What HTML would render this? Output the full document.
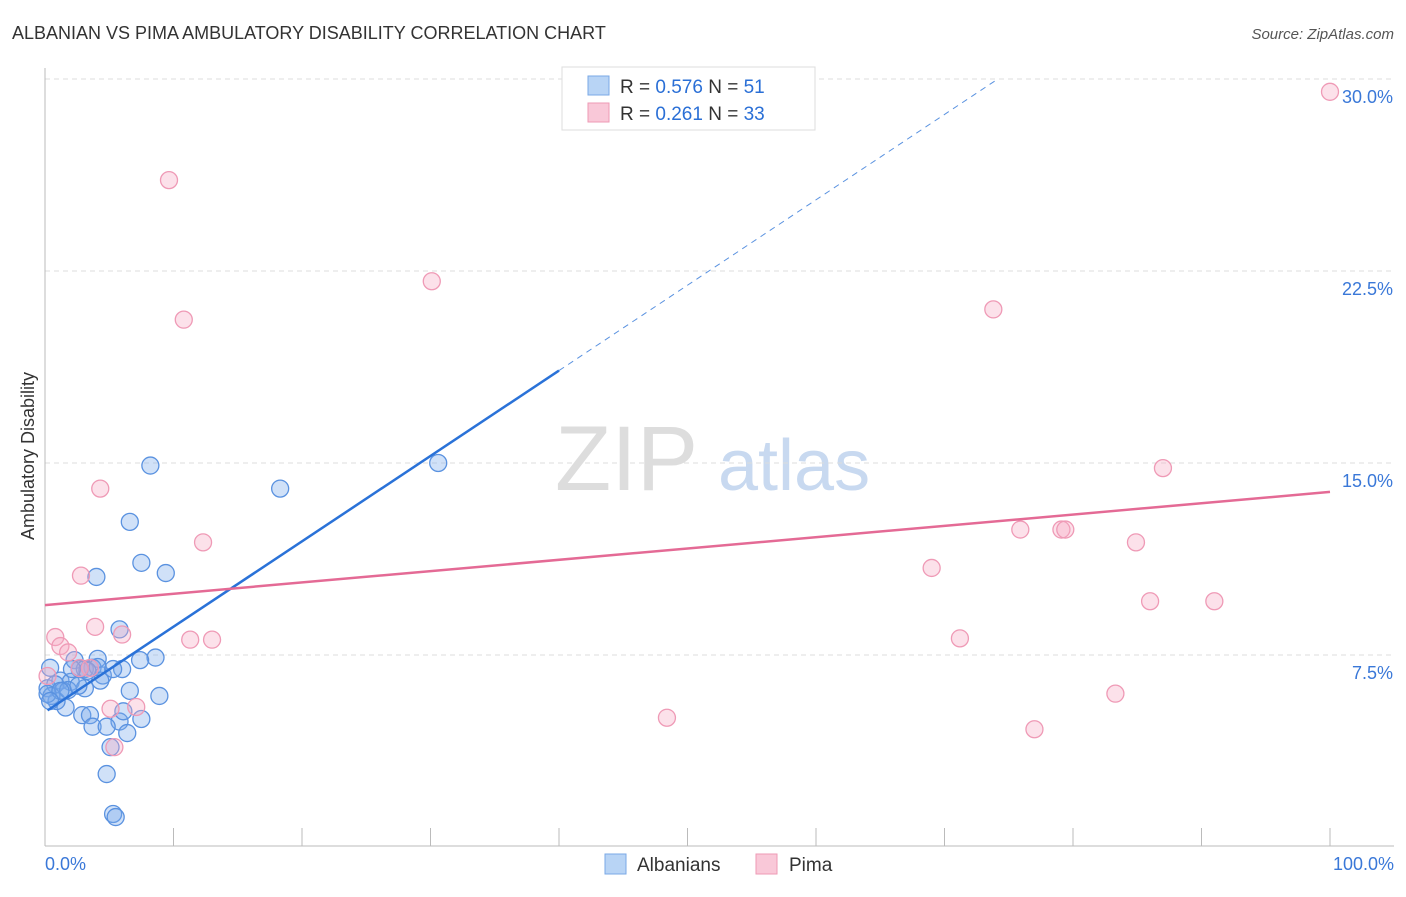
<!DOCTYPE html>
<html><head><meta charset="utf-8"><style>
body{margin:0;background:#fff;font-family:"Liberation Sans",sans-serif;}
svg text{font-family:"Liberation Sans",sans-serif;}
</style></head><body>
<svg id="c" width="1406" height="892">
<text x="12" y="39" font-size="18" fill="#333">ALBANIAN VS PIMA AMBULATORY DISABILITY CORRELATION CHART</text>
<text x="1394" y="39" font-size="15" fill="#555" font-style="italic" text-anchor="end">Source: ZipAtlas.com</text>
<text x="34" y="456" font-size="18" fill="#333" text-anchor="middle" transform="rotate(-90 34 456)">Ambulatory Disability</text>
<text x="555" y="490" font-size="92" fill="#ddd" font-family="Liberation Serif">ZIP</text>
<text x="718" y="490" font-size="72" fill="#c8d9f0">atlas</text>
<g id="grid"></g><g id="marks"></g>
<g>
<rect x="562" y="67" width="253" height="63" fill="#fff" stroke="#ddd"/>
<rect x="588" y="76" width="21" height="19" fill="#b8d4f5" stroke="#7aa8e6"/>
<rect x="588" y="103" width="21" height="19" fill="#f9c8d8" stroke="#ee9ab5"/>
<text x="620" y="93" font-size="19" fill="#333">R = <tspan fill="#2a6fd6">0.576</tspan>   N = <tspan fill="#2a6fd6">51</tspan></text>
<text x="620" y="120" font-size="19" fill="#333">R = <tspan fill="#2a6fd6"> 0.261</tspan>   N = <tspan fill="#2a6fd6">33</tspan></text>
</g>
<g>
<rect x="605" y="854" width="21" height="20" fill="#b8d4f5" stroke="#7aa8e6"/>
<text x="637" y="871" font-size="19" fill="#333">Albanians</text>
<rect x="756" y="854" width="21" height="20" fill="#f9c8d8" stroke="#ee9ab5"/>
<text x="789" y="871" font-size="19" fill="#333">Pima</text>
</g>
</svg>
<script>
const yTicks=[7.5,15,22.5,30];
const xTickLabels=["0.0%","100.0%"];
const blueX=[8.2,18.3,30.6,6.6,7.5,9.4,4.0,5.8,8.6,7.4,4.1,2.3,6.0,3.7,2.7,4.5,1.2,2.0,0.4,0.2,0.8,1.4,3.1,4.3,6.6,8.9,1.6,2.9,3.5,3.7,5.8,4.8,7.5,6.4,6.1,5.1,4.8,5.3,5.5,0.9,0.5,0.2,3.1,5.3,1.8,4.1,3.3,1.2,2.6,0.4,2.1];
const blueY=[14.9,14.0,15.0,12.7,11.1,10.7,10.55,8.5,7.4,7.3,7.35,7.3,6.95,7.0,6.95,6.7,6.5,6.45,7.0,6.2,6.35,6.1,6.2,6.5,6.1,5.9,5.45,5.15,5.15,4.7,4.9,4.7,5.0,4.45,5.3,3.9,2.85,1.29,1.17,5.7,5.9,5.98,6.95,6.95,6.13,7.03,6.88,6.1,6.3,5.7,6.95];
const pinkX=[100,9.65,30.1,10.8,73.8,87.0,4.3,12.3,75.9,79.1,79.4,84.9,69.0,2.8,86.0,91.0,3.9,6.0,0.8,11.3,13.0,71.2,1.2,1.8,83.3,48.4,77.0,5.1,7.1,5.4,0.2,3.5,2.7];
const pinkY=[29.5,26.05,22.1,20.6,21.0,14.8,14.0,11.9,12.4,12.4,12.4,11.9,10.9,10.6,9.6,9.6,8.6,8.3,8.2,8.1,8.1,8.15,7.85,7.6,5.99,5.05,4.6,5.4,5.47,3.9,6.68,6.99,6.99];
const blueTrend=[5.27,0.3335];
const pinkTrend=[9.45,0.0442];
const X=v=>45+v/100*1285, Y=v=>847-v/30*768;
const NS="http://www.w3.org/2000/svg";
function mk(p,t,a){const e=document.createElementNS(NS,t);for(const k in a)e.setAttribute(k,a[k]);p.appendChild(e);return e;}
const g=document.getElementById('grid'),m=document.getElementById('marks');
yTicks.forEach(t=>{
const l=mk(g,'line',{x1:45,x2:1394,y1:Y(t),y2:Y(t),stroke:'#ddd','stroke-dasharray':'5,4'});


const tx=mk(g,'text',{x:1393,y:Y(t)+24,'font-size':18,fill:'#3a78d8','text-anchor':'end'});tx.textContent=t.toFixed(1)+'%';


});
const ax=mk(g,'line',{x1:45,x2:45,y1:68,y2:846,stroke:'#bbb'});


const bx=mk(g,'line',{x1:45,x2:1394,y1:846,y2:846,stroke:'#bbb'});


for(let i=0;i<=10;i++){const t=mk(g,'line',{x1:X(i*10),x2:X(i*10),y1:828,y2:846,stroke:'#bbb'});

}
[[0,'start',45],[1,'end',1394]].forEach(([i,a,x])=>{const t=mk(g,'text',{x:x,y:870,'font-size':18,fill:'#3a78d8','text-anchor':a});t.textContent=xTickLabels[i];

});
blueX.forEach((v,i)=>{const c=mk(m,'circle',{cx:X(v),cy:Y(blueY[i]),r:8.5,fill:'rgba(120,170,235,0.35)',stroke:'#5a92e0','stroke-width':1.3});

});
pinkX.forEach((v,i)=>{const c=mk(m,'circle',{cx:X(v),cy:Y(pinkY[i]),r:8.5,fill:'rgba(245,170,195,0.35)',stroke:'#ef9ab6','stroke-width':1.3});

});
const bAt=x=>blueTrend[0]+blueTrend[1]*x;
const b1=mk(m,'line',{x1:X(0.2),y1:Y(bAt(0.2)),x2:X(40),y2:Y(bAt(40)),stroke:'#2a72d8','stroke-width':2.5});


const xe=(30-blueTrend[0])/blueTrend[1];
const b2=mk(m,'line',{x1:X(40),y1:Y(bAt(40)),x2:X(xe),y2:Y(30),stroke:'#5a92e0','stroke-width':1,'stroke-dasharray':'6,5'});


const p1=mk(m,'line',{x1:X(0),y1:Y(pinkTrend[0]),x2:X(100),y2:Y(pinkTrend[0]+pinkTrend[1]*100),stroke:'#e46a95','stroke-width':2.5});


</script>
</body></html>
